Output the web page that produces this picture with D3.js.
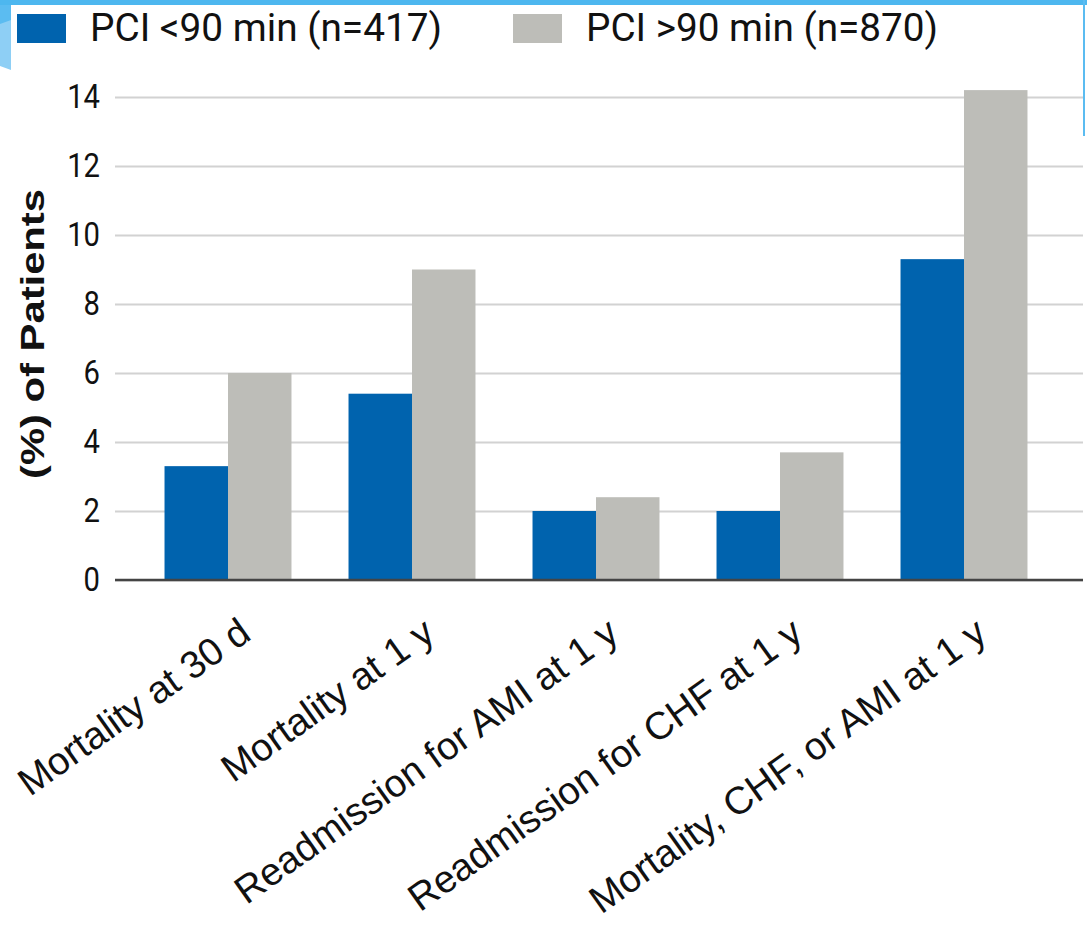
<!DOCTYPE html>
<html>
<head>
<meta charset="utf-8">
<script src="https://cdn.jsdelivr.net/npm/d3@7"></script>
<style>
  html, body { margin: 0; padding: 0; background: #fff; }
  svg { display: block; }
</style>
</head>
<body>
<div id="svg-container"></div>
<script>
// data
const categories = [
  "Mortality at 30 d",
  "Mortality at 1 y",
  "Readmission for AMI at 1 y",
  "Readmission for CHF at 1 y",
  "Mortality, CHF, or AMI at 1 y"
];
const seriesNames = ["PCI <90 min (n=417)", "PCI >90 min (n=870)"];
const under90 = [3.3, 5.4, 2.0, 2.0, 9.3];
const over90 = [6.0, 9.0, 2.4, 3.7, 14.2];
const yTicks = [0, 2, 4, 6, 8, 10, 12, 14];
const colors = ["#0063ae", "#bdbdb8"];

const width = 1087;
const height = 927;

const svg = d3.select("#svg-container").append("svg")
  .attr("width", width)
  .attr("height", height);

// slide frame bits (blue strips of the screenshot)
svg.append("rect").attr("x", 0).attr("y", 0).attr("width", width).attr("height", 5).attr("fill", "#4db7ef");
svg.append("path").attr("d", "M0,5 L11,5 L11,70 L0,66 Z").attr("fill", "#8ecff5");
svg.append("path").attr("d", "M0,5 L11,5 L11,20 L0,24 Z").attr("fill", "#5bbcf1");
svg.append("rect").attr("x", 1083).attr("y", 0).attr("width", 2).attr("height", 136).attr("fill", "#5bbcf1");

// scales
const x0 = d3.scaleBand()
  .domain(categories)
  .range([136, 1056])
  .paddingInner(0.31)
  .paddingOuter(0.155);

const x1 = d3.scaleBand()
  .domain([0, 1])
  .range([0, x0.bandwidth()]);

const y = d3.scaleLinear().domain([0, 14]).range([580, 97]);

// grid + y tick labels
const gridLeft = 115, gridRight = 1083;
const yAxis = d3.axisLeft(y)
  .tickValues(yTicks)
  .tickSize(-(gridRight - gridLeft))
  .tickPadding(15);

const gy = svg.append("g")
  .attr("transform", `translate(${gridLeft},0)`)
  .call(yAxis);
gy.select(".domain").remove();
gy.selectAll(".tick line").attr("stroke", "#d2d2d2").attr("stroke-width", 2);
gy.selectAll(".tick text")
  .attr("x", null)
  .attr("transform", "translate(-15,0) scale(0.86,1)")
  .attr("fill", "#111")
  .style("font-family", "Roboto, sans-serif")
  .style("font-size", "34px");

// bars
const rows = categories.map((c, i) => ({ cat: c, vals: [under90[i], over90[i]] }));

const groups = svg.append("g").selectAll("g")
  .data(rows)
  .join("g")
  .attr("transform", d => `translate(${x0(d.cat)},0)`);

groups.selectAll("rect")
  .data(d => d.vals.map((v, k) => ({ k, v })))
  .join("rect")
  .attr("x", d => x1(d.k))
  .attr("y", d => y(d.v))
  .attr("width", x1.bandwidth())
  .attr("height", d => y(0) - y(d.v))
  .attr("fill", d => colors[d.k]);

// zero line
svg.append("line")
  .attr("x1", gridLeft).attr("x2", gridRight)
  .attr("y1", y(0)).attr("y2", y(0))
  .attr("stroke", "#444").attr("stroke-width", 2.5);

// x labels, rotated
svg.append("g").selectAll("text")
  .data(categories)
  .join("text")
  .attr("transform", d => `translate(${x0(d) + x0.bandwidth() / 2 + 25},638) rotate(-35.5)`)
  .attr("text-anchor", "end")
  .style("font-family", "'Liberation Sans', Arial, sans-serif")
  .style("font-size", "38.5px")
  .attr("fill", "#111")
  .text(d => d);

// y title
svg.append("text")
  .attr("transform", "translate(44,334) rotate(-90)")
  .attr("text-anchor", "middle")
  .style("font-family", "'Liberation Sans', Arial, sans-serif")
  .style("font-weight", "bold")
  .style("font-size", "33px")
  .attr("textLength", 290)
  .attr("lengthAdjust", "spacingAndGlyphs")
  .attr("fill", "#111")
  .text("(%) of Patients");

// legend
const legendX = [17, 513];
const legend = svg.append("g").selectAll("g")
  .data(seriesNames)
  .join("g")
  .attr("transform", (d, i) => `translate(${legendX[i]},14)`);

legend.append("rect")
  .attr("width", 49).attr("height", 29)
  .attr("fill", (d, i) => colors[i]);

legend.append("text")
  .attr("x", 73).attr("y", 27)
  .style("font-family", "Roboto, sans-serif")
  .style("font-size", "39px")
  .attr("textLength", 352)
  .attr("lengthAdjust", "spacingAndGlyphs")
  .attr("fill", "#111")
  .text(d => d);
</script>
</body>
</html>
